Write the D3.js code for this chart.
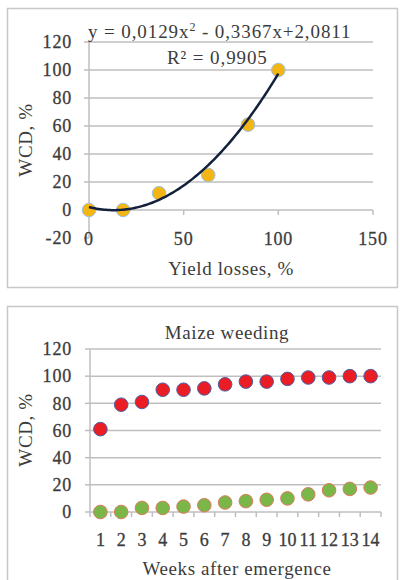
<!doctype html>
<html lang="en">
<head>
    <meta charset="utf-8"/>
    <title>WCD charts</title>
    <script src="https://d3js.org/d3.v7.min.js"></script>
    <style>
        body { margin: 0; padding: 0; background: #fff; }
        text { font-family: 'Liberation Serif', 'Times New Roman', serif; fill: #3c3c3c; }
        .tick-label { font-size: 18px; letter-spacing: 0.8px; stroke: #3c3c3c; stroke-width: 0.3px; }
        .title { font-size: 19px; letter-spacing: 0.6px; }
    </style>
</head>
<body>
<script>
    // top chart: yield losses vs WCD
    const lossX = [0, 18, 37, 63, 84, 100];
    const lossY = [0, 0, 12, 25, 61, 100];
    const trendCoef = [0.0129, -0.3367, 2.0811]; // a, b, c of the fitted curve
    const topYTicks = [-20, 0, 20, 40, 60, 80, 100, 120];
    const topXTicks = [0, 50, 100, 150];

    // bottom chart: maize weeding
    const weeks = ['1', '2', '3', '4', '5', '6', '7', '8', '9', '10', '11', '12', '13', '14'];
    const redSeries = [61, 79, 81, 90, 90, 91, 94, 96, 96, 98, 99, 99, 100, 100];
    const greenSeries = [0, 0, 3, 3, 4, 5, 7, 8, 9, 10, 13, 16, 17, 18];
    const botYTicks = [0, 20, 40, 60, 80, 100, 120];

    const svg = d3.select('body').append('svg')
        .attr('width', 400)
        .attr('height', 580);

    const gridColor = '#bfbfbf';

    // panel frames
    svg.append('rect').attr('x', 7.5).attr('y', 8.5).attr('width', 390).attr('height', 279)
        .attr('fill', '#fff').attr('stroke', '#c8c8c8').attr('stroke-width', 1.5);
    svg.append('rect').attr('x', 7.5).attr('y', 306.5).attr('width', 390).attr('height', 290)
        .attr('fill', '#fff').attr('stroke', '#c8c8c8').attr('stroke-width', 1.5);

    /* ---------- top chart ---------- */
    const x1 = d3.scaleLinear().domain([0, 150]).range([89, 373]);
    const y1 = d3.scaleLinear().domain([-20, 120]).range([238, 42]);

    const topG = svg.append('g');

    // gridlines
    topG.selectAll('.grid')
        .data(topYTicks.filter(d => d > 0))
        .enter().append('line')
        .attr('x1', x1(0)).attr('x2', x1(150))
        .attr('y1', d => y1(d)).attr('y2', d => y1(d))
        .attr('stroke', gridColor).attr('stroke-width', 1.5);

    // y axis
    topG.append('line')
        .attr('x1', x1(0)).attr('x2', x1(0))
        .attr('y1', y1(-20)).attr('y2', y1(120))
        .attr('stroke', gridColor).attr('stroke-width', 1.5);
    topG.selectAll('.ytick')
        .data(topYTicks)
        .enter().append('line')
        .attr('x1', x1(0) - 5).attr('x2', x1(0))
        .attr('y1', d => y1(d)).attr('y2', d => y1(d))
        .attr('stroke', gridColor).attr('stroke-width', 1.5);
    topG.selectAll('.ylab')
        .data(topYTicks)
        .enter().append('text')
        .attr('class', 'tick-label')
        .attr('x', 72).attr('y', d => y1(d))
        .attr('dy', '0.35em')
        .attr('text-anchor', 'end')
        .text(d => d);

    // x axis at y = 0
    topG.append('line')
        .attr('x1', x1(0)).attr('x2', x1(150))
        .attr('y1', y1(0)).attr('y2', y1(0))
        .attr('stroke', gridColor).attr('stroke-width', 1.5);
    topG.selectAll('.xtick')
        .data(topXTicks)
        .enter().append('line')
        .attr('x1', d => x1(d)).attr('x2', d => x1(d))
        .attr('y1', y1(0)).attr('y2', y1(0) + 5)
        .attr('stroke', gridColor).attr('stroke-width', 1.5);
    topG.selectAll('.xlab')
        .data(topXTicks)
        .enter().append('text')
        .attr('class', 'tick-label')
        .attr('x', d => x1(d)).attr('y', 239)
        .attr('dy', '0.35em')
        .attr('text-anchor', 'middle')
        .text(d => d);

    // trendline from displayed coefficients
    const trendX = d3.range(0, 100.5, 1);
    const trend = d3.line()
        .x(d => x1(d))
        .y(d => y1(trendCoef[0] * d * d + trendCoef[1] * d + trendCoef[2]))
        .curve(d3.curveBasis);

    // points
    topG.selectAll('.pt')
        .data(lossX)
        .enter().append('circle')
        .attr('cx', d => x1(d))
        .attr('cy', (d, i) => y1(lossY[i]))
        .attr('r', 6.8)
        .attr('fill', '#f4b614')
        .attr('stroke', '#9cc3e4')
        .attr('stroke-width', 1);

    topG.append('path')
        .attr('d', trend(trendX))
        .attr('fill', 'none')
        .attr('stroke', '#14213d')
        .attr('stroke-width', 2.5);

    // equation
    topG.append('text')
        .attr('class', 'title')
        .attr('x', 88).attr('y', 38)
        .style('letter-spacing', '0.9px')
        .html('y = 0,0129x<tspan dy="-7" font-size="12px">2</tspan><tspan dy="7"> - 0,3367x+2,0811</tspan>');
    topG.append('text')
        .attr('class', 'title')
        .attr('x', 167).attr('y', 64)
        .style('letter-spacing', '0.9px')
        .text('R² = 0,9905');

    // axis titles
    topG.append('text')
        .attr('class', 'title')
        .attr('x', 231).attr('y', 268)
        .attr('dy', '0.35em')
        .attr('text-anchor', 'middle')
        .text('Yield losses, %');
    topG.append('text')
        .attr('class', 'title')
        .attr('transform', 'translate(25,140) rotate(-90)')
        .attr('dy', '0.35em')
        .attr('text-anchor', 'middle')
        .text('WCD, %');

    /* ---------- bottom chart ---------- */
    const x2 = d3.scaleBand().domain(weeks).range([90, 381]);
    const y2 = d3.scaleLinear().domain([0, 120]).range([512, 349]);

    const botG = svg.append('g');

    botG.selectAll('.grid')
        .data(botYTicks.filter(d => d > 0))
        .enter().append('line')
        .attr('x1', 90).attr('x2', 381)
        .attr('y1', d => y2(d)).attr('y2', d => y2(d))
        .attr('stroke', gridColor).attr('stroke-width', 1.5);

    botG.append('line')
        .attr('x1', 90).attr('x2', 90)
        .attr('y1', y2(0)).attr('y2', y2(120))
        .attr('stroke', gridColor).attr('stroke-width', 1.5);
    botG.selectAll('.ytick')
        .data(botYTicks)
        .enter().append('line')
        .attr('x1', 85).attr('x2', 90)
        .attr('y1', d => y2(d)).attr('y2', d => y2(d))
        .attr('stroke', gridColor).attr('stroke-width', 1.5);
    botG.selectAll('.ylab')
        .data(botYTicks)
        .enter().append('text')
        .attr('class', 'tick-label')
        .attr('x', 72).attr('y', d => y2(d))
        .attr('dy', '0.35em')
        .attr('text-anchor', 'end')
        .text(d => d);

    botG.append('line')
        .attr('x1', 90).attr('x2', 381)
        .attr('y1', y2(0)).attr('y2', y2(0))
        .attr('stroke', gridColor).attr('stroke-width', 1.5);
    botG.selectAll('.xtick')
        .data(weeks.concat(['end']))
        .enter().append('line')
        .attr('x1', (d, i) => 90 + i * x2.step()).attr('x2', (d, i) => 90 + i * x2.step())
        .attr('y1', y2(0)).attr('y2', y2(0) + 5)
        .attr('stroke', gridColor).attr('stroke-width', 1.5);
    botG.selectAll('.xlab')
        .data(weeks)
        .enter().append('text')
        .attr('class', 'tick-label')
        .attr('x', d => x2(d) + x2.bandwidth() / 2).attr('y', 540)
        .attr('dy', '0.35em')
        .attr('text-anchor', 'middle')
        .style('letter-spacing', '0px')
        .text(d => d);

    botG.selectAll('.green')
        .data(greenSeries)
        .enter().append('circle')
        .attr('cx', (d, i) => x2(weeks[i]) + x2.bandwidth() / 2)
        .attr('cy', d => y2(d))
        .attr('r', 6.8)
        .attr('fill', '#7ab648')
        .attr('stroke', '#e07a5f')
        .attr('stroke-width', 1);

    botG.selectAll('.red')
        .data(redSeries)
        .enter().append('circle')
        .attr('cx', (d, i) => x2(weeks[i]) + x2.bandwidth() / 2)
        .attr('cy', d => y2(d))
        .attr('r', 6.8)
        .attr('fill', '#ea1c24')
        .attr('stroke', '#4a5fa8')
        .attr('stroke-width', 1);

    botG.append('text')
        .attr('class', 'title')
        .attr('x', 227).attr('y', 332)
        .attr('dy', '0.35em')
        .attr('text-anchor', 'middle')
        .text('Maize weeding');
    botG.append('text')
        .attr('class', 'title')
        .attr('x', 237).attr('y', 568)
        .attr('dy', '0.35em')
        .attr('text-anchor', 'middle')
        .text('Weeks after emergence');
    botG.append('text')
        .attr('class', 'title')
        .attr('transform', 'translate(25,430) rotate(-90)')
        .attr('dy', '0.35em')
        .attr('text-anchor', 'middle')
        .text('WCD, %');
</script>
</body>
</html>
